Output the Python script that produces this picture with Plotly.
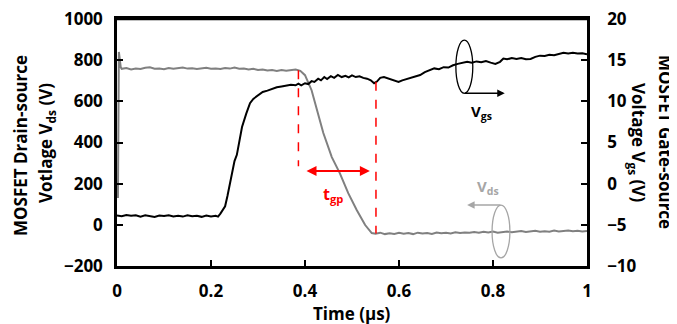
import plotly.graph_objects as go

# ---- data ----
vds_t = [0.002, 0.004, 0.008, 0.01, 0.02, 0.03, 0.04, 0.05, 0.06, 0.07, 0.08, 0.09, 0.10,
         0.11, 0.12, 0.13, 0.14, 0.15, 0.16, 0.17, 0.18, 0.19, 0.20, 0.21, 0.22, 0.23,
         0.24, 0.25, 0.26, 0.27, 0.28, 0.29, 0.30, 0.31, 0.32, 0.33, 0.34, 0.35, 0.36,
         0.37, 0.38, 0.39, 0.40, 0.414, 0.425, 0.439, 0.457, 0.474, 0.492, 0.51, 0.528,
         0.542, 0.55, 0.56, 0.57, 0.58, 0.59, 0.60, 0.61, 0.62, 0.63, 0.64, 0.65, 0.66,
         0.67, 0.68, 0.69, 0.70, 0.71, 0.72, 0.73, 0.74, 0.75, 0.76, 0.77, 0.78, 0.79,
         0.80, 0.81, 0.82, 0.83, 0.84, 0.85, 0.86, 0.87, 0.88, 0.89, 0.90, 0.91, 0.92,
         0.93, 0.94, 0.95, 0.96, 0.97, 0.98, 0.99, 1.00]
vds_v = [130, 840, 765, 758, 762, 755, 760, 757, 763, 765, 758, 760, 756,
         762, 758, 760, 764, 759, 761, 757, 760, 763, 758, 760, 757, 762,
         759, 764, 758, 760, 755, 758, 752, 755, 750, 752, 748, 752, 749,
         752, 755, 748, 727, 654, 557, 446, 329, 251, 154, 72, -1,
         -40, -43, -38, -45, -41, -44, -39, -43, -40, -45, -38, -42, -40,
         -44, -37, -41, -38, -42, -36, -40, -37, -39, -35, -38, -34, -37,
         -33, -38, -35, -32, -36, -33, -30, -35, -32, -29, -34, -31, -33,
         -28, -32, -30, -27, -31, -29, -32, -30]

vgs_t = [0.000, 0.010, 0.020, 0.030, 0.040, 0.050, 0.060, 0.070, 0.080, 0.090, 0.100,
         0.110, 0.120, 0.130, 0.140, 0.150, 0.160, 0.170, 0.180, 0.190, 0.200, 0.210,
         0.215, 0.220, 0.225, 0.230, 0.235, 0.240, 0.245, 0.250, 0.255, 0.260, 0.266,
         0.275, 0.283, 0.290, 0.300, 0.310, 0.320, 0.330, 0.340, 0.350, 0.360, 0.370,
         0.380, 0.386, 0.392, 0.400, 0.407, 0.414, 0.420, 0.428, 0.434, 0.441, 0.447,
         0.455, 0.462, 0.470, 0.478, 0.486, 0.493, 0.500, 0.508, 0.516, 0.524, 0.532,
         0.540, 0.547, 0.553, 0.560, 0.568, 0.576, 0.584, 0.592, 0.599, 0.607, 0.616,
         0.625, 0.635, 0.645, 0.655, 0.665,
         0.675, 0.685, 0.695, 0.705, 0.715, 0.725, 0.735, 0.745, 0.755, 0.765, 0.775,
         0.785, 0.795, 0.805, 0.815, 0.822, 0.830, 0.840, 0.850, 0.860, 0.870, 0.880,
         0.890, 0.900, 0.910, 0.920, 0.930, 0.940, 0.950, 0.960, 0.970, 0.980, 0.990,
         1.000]
vgs_v = [-3.88, -3.95, -3.80, -3.90, -3.83, -4.00, -3.85, -3.95, -4.05, -3.88, -3.93,
         -3.83, -3.98, -3.90, -4.00, -3.85, -3.95, -3.90, -4.03, -3.88, -3.98, -3.90,
         -4.00, -3.63, -3.25, -2.75, -1.50, 0.00, 1.50, 2.75, 3.50, 5.00, 6.88,
         8.50, 9.78, 10.30, 10.75, 11.13, 11.30, 11.50, 11.70, 11.80, 11.90, 12.00,
         11.95, 12.15, 11.95, 12.20, 12.10, 12.45, 12.35, 12.75, 12.55, 12.95, 12.70,
         13.05, 12.85, 13.20, 12.95, 13.10, 12.90, 13.15, 12.95, 13.05, 12.85, 12.75,
         12.55, 12.20, 12.40, 12.85, 12.95, 12.80, 12.70, 12.50, 12.35, 12.55, 12.70,
         12.90, 13.10, 13.20, 13.55, 13.75,
         14.00, 13.90, 14.15, 14.10, 14.38, 14.55, 14.70, 14.80, 14.70, 14.85, 14.75,
         14.90, 14.70, 14.55, 14.80, 15.20, 15.10, 15.25, 15.15, 15.25, 15.10, 15.15,
         15.40, 15.55, 15.50, 15.65, 15.60, 15.75, 15.90, 15.80, 15.90, 15.80, 15.85,
         15.70]

x_ticks = [0, 0.2, 0.4, 0.6, 0.8, 1]
x_tick_labels = ["0", "0.2", "0.4", "0.6", "0.8", "1"]
y1_ticks = [-200, 0, 200, 400, 600, 800, 1000]
y2_ticks = [-10, -5, 0, 5, 10, 15, 20]

FONT = "Open Sans"
TF = dict(family=FONT, size=17, color="black", weight="bold")

fig = go.Figure()
fig.add_trace(go.Scatter(x=vds_t, y=vds_v, mode="lines",
                         line=dict(color="#808080", width=2), yaxis="y", showlegend=False))
fig.add_trace(go.Scatter(x=vgs_t, y=vgs_v, mode="lines",
                         line=dict(color="black", width=2), yaxis="y2", showlegend=False))

red = "#ff0000"
shapes = [
    dict(type="line", xref="x", yref="y", x0=0.386, x1=0.386, y0=751, y1=285,
         line=dict(color=red, width=1.5, dash="dash")),
    dict(type="line", xref="x", yref="y", x0=0.551, x1=0.551, y0=695, y1=-42,
         line=dict(color=red, width=1.5, dash="dash")),
    dict(type="circle", xref="x", yref="y", x0=0.721, x1=0.757, y0=639, y1=897,
         line=dict(color="black", width=1.3)),
    dict(type="circle", xref="x", yref="y", x0=0.798, x1=0.836, y0=-161, y1=96,
         line=dict(color="#a6a6a6", width=1.3)),
    # top frame line
    dict(type="line", xref="paper", yref="paper", x0=0, x1=1, y0=1, y1=1,
         line=dict(color="black", width=2.5)),
]

annotations = [
    # t_gp double arrow
    dict(x=0.538, y=261, ax=0.400, ay=261, xref="x", yref="y", axref="x", ayref="y",
         text="", showarrow=True, arrowhead=2, arrowside="end+start", arrowsize=1,
         arrowwidth=2, arrowcolor=red),
    dict(x=0.46, y=145, xref="x", yref="y", showarrow=False,
         text="t<sub>gp</sub>", font=dict(family=FONT, size=16, color=red, weight="bold")),
    # Vgs arrow + label
    dict(x=0.825, y=639, ax=0.737, ay=639, xref="x", yref="y", axref="x", ayref="y",
         text="", showarrow=True, arrowhead=2, arrowsize=1, arrowwidth=1.5,
         arrowcolor="black"),
    dict(x=0.775, y=548, xref="x", yref="y", showarrow=False,
         text="V<sub>gs</sub>", font=dict(family=FONT, size=15, color="black", weight="bold")),
    # Vds arrow + label
    dict(x=0.745, y=96, ax=0.819, ay=96, xref="x", yref="y", axref="x", ayref="y",
         text="", showarrow=True, arrowhead=2, arrowsize=1, arrowwidth=1.5,
         arrowcolor="#a6a6a6"),
    dict(x=0.79, y=183, xref="x", yref="y", showarrow=False,
         text="V<sub>ds</sub>", font=dict(family=FONT, size=15, color="#a6a6a6", weight="bold")),
]

# page has an 8px body margin; lay out in page pixels and shift
OFF = 8
W, H = 677 - OFF, 324 - OFF
ML, MR, MT, MB = 117 - OFF, 90, 19 - OFF, 58
pw, ph = W - ML - MR, H - MT - MB

title_font = dict(family=FONT, size=17, color="black", weight="bold")
# (text, page x, page y, angle)
title_lines = [
    ("MOSFET Drain-source", 20, 146, -90),
    ("Votlage V<sub>ds</sub> (V)", 46, 143, -90),
    ("MOSFET Gate-source", 666, 142, 90),
    ("Voltage V<sub>gs</sub> (V)", 638, 142, 90),
    ("Time (µs)", 352, 313, 0),
]
for txt, px, py, ang in title_lines:
    annotations.append(dict(
        x=(px - OFF - ML) / pw, y=1 - (py - OFF - MT) / ph,
        xref="paper", yref="paper", showarrow=False, textangle=ang,
        xanchor="center", yanchor="middle", text=txt, font=title_font))

fig.update_layout(
    width=W, height=H,
    margin=dict(l=ML, r=MR, t=MT, b=MB, autoexpand=False),
    plot_bgcolor="white", paper_bgcolor="white",
    shapes=shapes, annotations=annotations,
    xaxis=dict(range=[0, 1], tickvals=x_ticks, ticktext=x_tick_labels, automargin=False,
               showline=True, linecolor="black", linewidth=2.5, mirror=True,
               ticks="inside", ticklen=6, tickwidth=2, tickcolor="black",
               showgrid=False, zeroline=False, tickfont=TF, ticklabelstandoff=8,
               ticklabeloverflow="allow"),
    yaxis=dict(range=[-200, 1000], tickvals=y1_ticks, automargin=False,
               showline=True, linecolor="black", linewidth=2.5, mirror=True,
               ticks="inside", ticklen=6, tickwidth=2, tickcolor="black",
               showgrid=False, zeroline=False, tickfont=TF, ticklabelstandoff=8,
               ticklabeloverflow="allow"),
    yaxis2=dict(range=[-10, 20], tickvals=y2_ticks, overlaying="y", side="right",
                automargin=False,
                showline=True, linecolor="black", linewidth=2.5,
                ticks="inside", ticklen=6, tickwidth=2, tickcolor="black",
                showgrid=False, zeroline=False, tickfont=TF, ticklabelstandoff=14,
                ticklabeloverflow="allow"),
)

fig.write_html("out.html")
